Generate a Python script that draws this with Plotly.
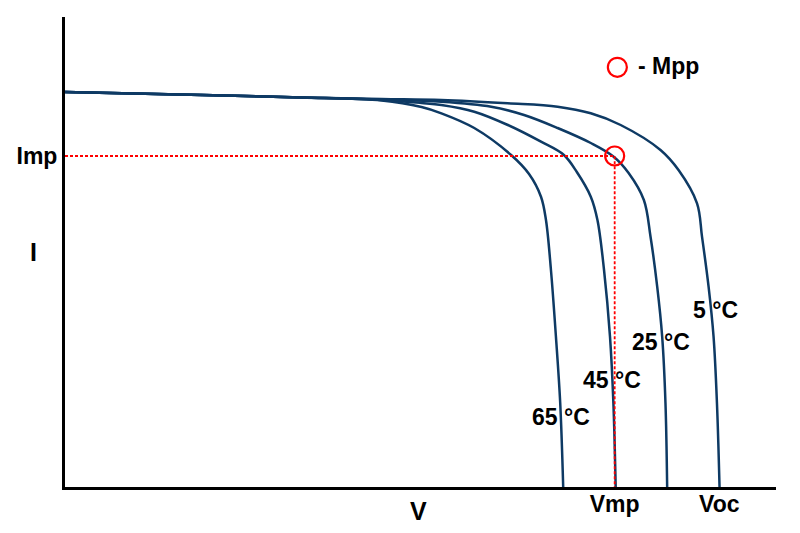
import plotly.graph_objects as go

# I-V curves of a PV module at four cell temperatures (arbitrary units)
temps = ["5 °C", "25 °C", "45 °C", "65 °C"]

v_5 = [0.0, 13.8, 23.8, 31.8, 37.8, 44.47, 49.47, 52.8, 55.8, 59.8, 61.63, 63.47, 63.97, 64.63, 65.13, 65.47, 65.73]
i_5 = [39.5, 39.2, 38.95, 38.8, 38.7, 38.37, 38.03, 37.37, 36.2, 33.7, 31.67, 28.37, 25.03, 20.03, 15.03, 8.4, 0.0]

v_25 = [0.0, 13.8, 23.8, 31.8, 37.8, 42.8, 46.1, 49.47, 52.8, 55.1, 56.6, 58.13, 58.8, 59.47, 59.97, 60.3, 60.47]
i_25 = [39.5, 39.2, 38.95, 38.75, 38.53, 38.03, 37.2, 35.9, 34.4, 33.03, 31.4, 28.7, 25.03, 20.03, 15.03, 8.4, 0.0]

v_45 = [0.0, 13.8, 23.8, 31.8, 35.8, 37.8, 41.1, 44.47, 47.8, 50.1, 51.4, 52.8, 53.47, 54.13, 54.73, 55.07, 55.3]
i_45 = [39.5, 39.2, 38.95, 38.7, 38.4, 38.2, 37.53, 36.2, 34.53, 33.2, 31.5, 29.03, 26.7, 21.7, 15.03, 8.4, 0.0]

v_65 = [0.0, 13.8, 23.8, 31.8, 35.8, 37.8, 41.1, 44.8, 46.6, 47.8, 48.3, 48.8, 49.3, 49.73, 50.03]
i_65 = [39.5, 39.2, 38.95, 38.65, 38.0, 37.37, 35.9, 33.2, 31.3, 29.03, 26.7, 21.7, 15.03, 8.4, 0.0]

# where each temperature label sits
label_v = [65.35, 59.9, 54.97, 49.8]
label_i = [17.7, 14.53, 10.7, 7.03]

vmp, imp = 55.2, 33.1
voc = 65.7
legend_v, legend_i = 55.47, 41.97

x_ticks = [vmp, voc]
x_ticktext = ["Vmp", "Voc"]
y_ticks = [imp]
y_ticktext = ["Imp"]

NAVY = "#0e3a64"
FONT = dict(family="Liberation Sans, Arial", size=23, color="black")
BIG = dict(family="Liberation Sans, Arial", size=25, color="black")

fig = go.Figure()

curves = [(v_5, i_5), (v_25, i_25), (v_45, i_45), (v_65, i_65)]
for (v, i), t in zip(curves, temps):
    fig.add_trace(go.Scatter(x=v, y=i, mode="lines", name=t,
                             line=dict(color=NAVY, width=2.5, shape="spline", smoothing=1.0)))

# dashed guide lines to the maximum power point
fig.add_trace(go.Scatter(x=[0, vmp, vmp], y=[imp, imp, 0], mode="lines",
                         line=dict(color="red", width=1.8, dash="3px,2px")))
fig.add_trace(go.Scatter(x=[vmp, legend_v], y=[imp, legend_i], mode="markers",
                         marker=dict(symbol="circle-open", size=19, color="red",
                                     line=dict(width=2.2, color="red"))))

for t, lv, li in zip(temps, label_v, label_i):
    fig.add_annotation(x=lv, y=li, text="<b>" + t + "</b>", showarrow=False, font=FONT)

fig.add_annotation(x=legend_v + 1.9, y=legend_i + 0.1, text="<b>- Mpp</b>", xanchor="left",
                   showarrow=False, font=FONT)
fig.add_annotation(xref="paper", yref="paper", x=-0.044, y=0.5, text="<b>I</b>",
                   xanchor="center", yanchor="middle", showarrow=False, font=BIG)
fig.add_annotation(xref="paper", yref="paper", x=0.497, y=-0.05, text="<b>V</b>",
                   xanchor="center", yanchor="middle", showarrow=False, font=BIG)

fig.update_xaxes(range=[0, 71.4], showgrid=False, zeroline=False, showline=True,
                 linewidth=3, linecolor="black", ticks="", ticklabelstandoff=-6,
                 tickvals=x_ticks, ticktext=["<b>" + s + "</b>" for s in x_ticktext],
                 tickfont=FONT)
fig.update_yaxes(range=[0, 47], showgrid=False, zeroline=False, showline=True,
                 linewidth=3, linecolor="black", ticks="",
                 tickvals=y_ticks, ticktext=["<b>" + s + "</b>" for s in y_ticktext],
                 tickfont=FONT)

# the page body adds an 8px offset, so margins are shifted to compensate
fig.update_layout(width=800, height=533, showlegend=False,
                  paper_bgcolor="white", plot_bgcolor="white",
                  margin=dict(l=54, r=32, t=9, b=54))

fig.write_html("out.html")
